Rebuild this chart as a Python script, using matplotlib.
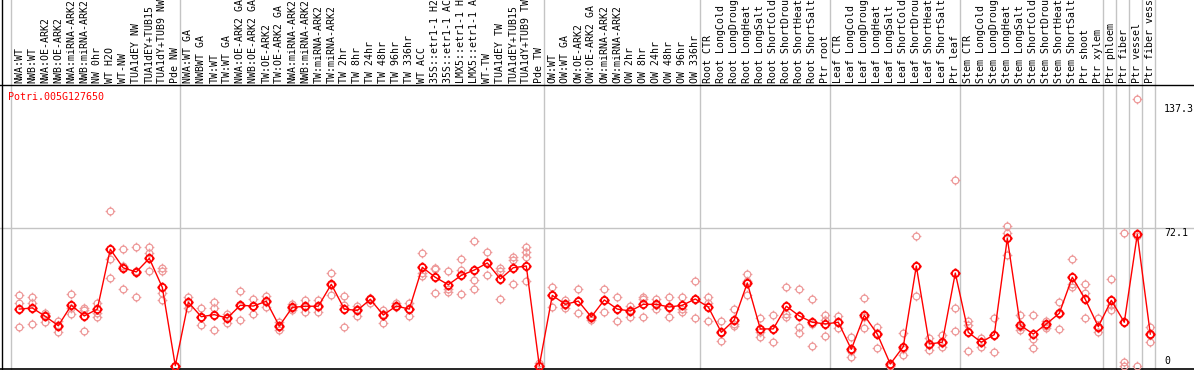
import matplotlib
matplotlib.use("Agg")
import matplotlib.pyplot as plt
import matplotlib.transforms as mtransforms
from matplotlib.path import Path
import numpy as np

plt.rcParams['font.family'] = ['DejaVu Sans Mono']

gene = "Potri.005G127650"

labels = [
    "NWA:WT", "NWB:WT", "NWA:OE-ARK2", "NWB:OE-ARK2", "NWA:miRNA-ARK2", "NWB:miRNA-ARK2",
    "NW 0hr", "WT H2O", "WT-NW", "TUA1dEY NW", "TUA1dEY+TUB15", "TUA1dY+TUB9 NW", "Pde NW",
    "NWA:WT GA", "NWBWT GA", "TW:WT", "TW:WT GA", "NWA:OE-ARK2 GA", "NWB:OE-ARK2 GA",
    "TW:OE-ARK2", "TW:OE-ARK2 GA", "NWA:miRNA-ARK2", "NWB:miRNA-ARK2", "TW:miRNA-ARK2",
    "TW:miRNA-ARK2", "TW 2hr", "TW 8hr", "TW 24hr", "TW 48hr", "TW 96hr", "TW 336hr",
    "WT ACC", "35S::etr1-1 H2", "35S::etr1-1 AC", "LMX5::etr1-1 H", "LMX5::etr1-1 A",
    "WT-TW", "TUA1dEY TW", "TUA1dEY+TUB15", "TUA1dY+TUB9 TW", "Pde TW",
    "OW:WT", "OW:WT GA", "OW:OE-ARK2", "OW:OE-ARK2 GA", "OW:miRNA-ARK2", "OW:miRNA-ARK2",
    "OW 2hr", "OW 8hr", "OW 24hr", "OW 48hr", "OW 96hr", "OW 336hr",
    "Root CTR", "Root LongCold", "Root LongDroug", "Root LongHeat", "Root LongSalt",
    "Root ShortCold", "Root ShortDrou", "Root ShortHeat", "Root ShortSalt", "Ptr root",
    "Leaf CTR", "Leaf LongCold", "Leaf LongDroug", "Leaf LongHeat", "Leaf LongSalt",
    "Leaf ShortCold", "Leaf ShortDrou", "Leaf ShortHeat", "Leaf ShortSalt", "Ptr leaf",
    "Stem CTR", "Stem LongCold", "Stem LongDroug", "Stem LongHeat", "Stem LongSalt",
    "Stem ShortCold", "Stem ShortDrou", "Stem ShortHeat", "Stem ShortSalt", "Ptr shoot",
    "Ptr xylem", "Ptr phloem", "Ptr fiber", "Ptr vessel", "Ptr fiber vess",
]

# index of the last sample in each block
group_ends = [12, 40, 52, 62, 72, 83, 84, 85, 86, 87]

means = [
    29.7, 30.3, 25.9, 21.0, 31.7, 26.1, 29.7, 61.1, 51.3, 49.2, 56.3, 41.1, 0.0,
    33.3, 25.7, 26.8, 25.0, 31.7, 31.3, 33.8, 20.8, 30.6, 31.2, 31.2, 42.7, 29.7, 29.0,
    34.8, 26.6, 31.3, 29.7, 51.6, 46.4, 42.5, 47.4, 50.2, 53.9, 45.5, 51.4, 52.3, 0.0,
    36.9, 32.2, 33.9, 25.6, 34.5, 29.7, 28.7, 32.2, 32.2, 30.8, 31.7, 35.0,
    30.8, 17.5, 24.0, 43.4, 19.3, 19.3, 31.2, 26.1, 22.8, 21.9,
    22.8, 8.6, 26.4, 16.6, 0.9, 10.0, 52.3, 11.4, 12.3, 48.6,
    17.5, 12.3, 16.3, 66.8, 21.2, 16.6, 21.9, 27.5, 46.4, 34.8, 20.5,
    34.3, 22.8, 68.9, 16.6,
]

reps = [
    [36.9, 32.7, 20.3], [36.0, 33.0, 21.7], [27.5, 22.8, 26.8], [23.6, 17.5, 21.5],
    [37.4, 27.3, 30.5], [30.3, 18.0, 29.0], [33.0, 27.8, 25.7], [81.0, 55.8, 45.8],
    [61.1, 52.5, 40.2], [62.1, 35.9, 49.5], [62.4, 59.0, 49.5], [51.1, 49.5, 38.0, 34.5],
    [0.0, 0.0, 0.0],
    [36.2, 30.1, 33.5], [30.1, 21.4, 25.5], [33.6, 30.1, 18.7], [27.1, 22.6, 25.5],
    [39.2, 23.8, 31.5], [35.0, 27.0, 31.5], [36.6, 31.0, 33.5], [22.8, 18.7, 20.5],
    [32.5, 29.2, 30.5], [34.3, 28.3, 31.0], [34.6, 28.3, 31.0], [48.6, 36.9, 42.5],
    [36.4, 20.3, 32.0], [31.3, 26.1, 29.5], [35.5, 33.0, 34.8], [29.2, 22.2, 27.0],
    [32.7, 30.8, 31.5], [33.0, 26.1, 30.0], [59.1, 48.5, 47.1], [51.4, 50.6, 38.0],
    [49.7, 40.4, 38.8], [55.8, 50.2, 37.4], [65.3, 45.0, 40.2], [59.5, 47.6, 54.5],
    [51.4, 49.7, 34.8], [57.2, 55.5, 42.7], [62.1, 59.8, 56.9, 44.6], [1.5, 0.0, 0.0],
    [41.1, 31.0, 37.0], [34.5, 30.1, 32.0], [40.1, 27.5, 34.0], [24.0, 25.0, 26.0],
    [40.2, 28.0, 34.5], [36.0, 23.5, 29.5], [31.3, 25.7, 29.0], [36.2, 25.6, 35.0],
    [34.8, 29.7, 32.0], [36.2, 25.6, 30.5], [36.2, 28.3, 30.0], [44.4, 25.0, 35.0],
    [36.2, 23.5, 33.0], [23.5, 13.0, 17.0], [29.7, 20.8, 22.0], [48.1, 37.1, 44.5],
    [25.2, 15.2, 17.5], [26.4, 12.3, 19.3], [41.1, 25.7, 27.0], [40.2, 20.5, 17.0],
    [34.8, 10.3, 22.0], [26.6, 15.6, 24.0],
    [26.2, 19.9, 22.8], [15.2, 4.7, 7.5], [35.5, 19.6, 25.5], [20.1, 9.1, 17.0],
    [0.5, 0.0, 0.0], [17.0, 5.6, 9.0], [68.0, 36.4, 52.3], [14.5, 8.4, 11.0],
    [16.1, 10.0, 12.0], [97.4, 30.1, 18.0],
    [23.5, 21.4, 7.9], [14.7, 10.0, 12.5], [25.0, 7.2, 16.0], [73.3, 69.8, 58.1],
    [26.6, 18.7, 20.5], [26.6, 9.1, 14.0], [23.6, 19.6, 21.0], [33.6, 19.3, 27.0],
    [55.8, 41.4, 43.0], [42.9, 38.3, 24.9], [24.9, 17.5, 20.0],
    [45.3, 29.2, 32.0], [69.5, 1.8, 0.0], [140.0, 0.0, 68.0], [20.5, 12.6, 16.0],
]

ytick_vals = [137.3, 72.1, 0]
ytick_text = ["137.3", "72.1", "0"]

# circle with four little ticks
circ = Path.unit_circle()
tk = 1.45
ticks = Path([(0, 1), (0, tk), (0, -1), (0, -tk), (1, 0), (tk, 0), (-1, 0), (-tk, 0)],
             [Path.MOVETO, Path.LINETO] * 4)
mk = Path.make_compound_path(circ, ticks)

W, H = 1194, 370
fig = plt.figure(figsize=(W / 100, H / 100), dpi=100)
ax = fig.add_axes([0, 0, 1, 1])
for s in ax.spines.values():
    s.set_visible(False)
ax.set_xticks([])
ax.set_yticks([])

step = 13.0
x0 = 19.3
ax.set_xlim(-x0 / step, (W - x0) / step)
zero_px = 365.7
ppu = 1.906
ax.set_ylim((zero_px - H) / ppu, zero_px / ppu)

x = np.arange(len(means))
header = 1 - 85 / H

# block separators
ax.axvline(-0.65, color="#c4c4c4", lw=1.0, zorder=1)
for g in group_ends:
    ax.axvline(g + 0.35, color="#c4c4c4", lw=1.0, zorder=1)
ax.axhline(72.1, color="#c4c4c4", lw=1.0, zorder=1)

# frame lines
ax.plot([0, 1], [header, header], color="black", lw=1.0, transform=ax.transAxes, zorder=2)
ax.plot([1.5 / W, 1.5 / W], [0, 1], color="black", lw=1.0, transform=ax.transAxes, zorder=2)
ax.plot([0, 1], [1.2 / H, 1.2 / H], color="black", lw=1.2, transform=ax.transAxes, zorder=2)

# replicates
for i, r in enumerate(reps):
    ax.plot([i] * len(r), r, linestyle="none", marker=mk, markersize=7.0,
            markerfacecolor="none", markeredgecolor="#ee9a9a", markeredgewidth=0.9, zorder=3)

ax.plot(x, means, color="red", lw=1.0, zorder=4)
ax.plot(x, means, linestyle="none", marker=mk, markersize=7.4,
        markerfacecolor="none", markeredgecolor="red", markeredgewidth=1.3, zorder=5)

# sample names
trans = mtransforms.blended_transform_factory(ax.transData, ax.transAxes)
for i, lab in enumerate(labels):
    ax.text(i, 1 - 83 / H, lab, transform=trans, rotation=90, ha="center", va="bottom",
            fontsize=7.1, color="black", zorder=6)

ax.text(8 / W, 1 - 97 / H, gene, transform=ax.transAxes, ha="left", va="center",
        fontsize=7.2, color="red")

tx = (1164 - x0) / step
for v, t in zip(ytick_vals, ytick_text):
    ax.text(tx, v, t, ha="left", va="bottom" if v == 0 else "top", fontsize=7.1, color="black")

fig.savefig("out.png", dpi=100)
